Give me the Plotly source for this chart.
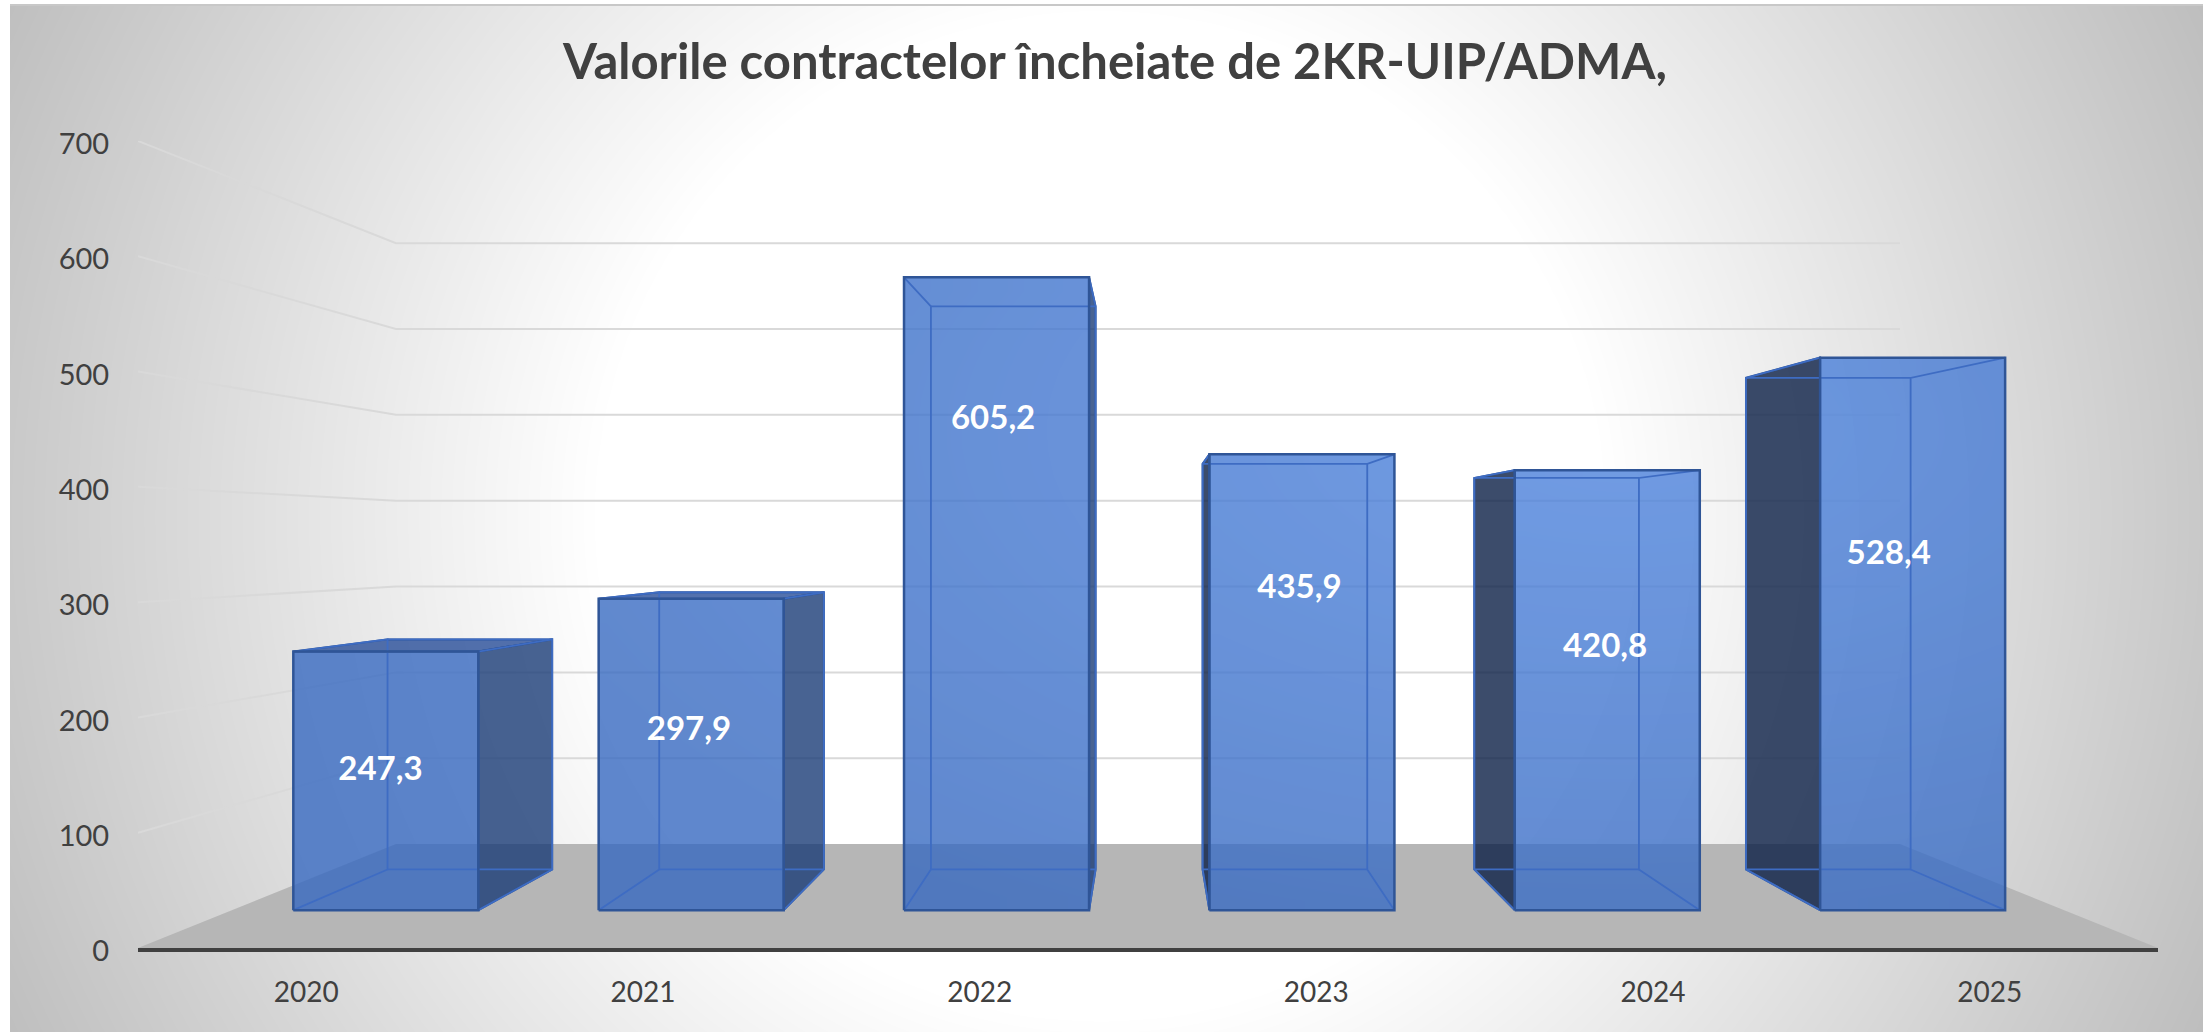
import numpy as np
import plotly.graph_objects as go

# ---------- data ----------
categories = ["2020", "2021", "2022", "2023", "2024", "2025"]
values = [247.3, 297.9, 605.2, 435.9, 420.8, 528.4]
value_labels = ["247,3", "297,9", "605,2", "435,9", "420,8", "528,4"]
y_ticks = [0, 100, 200, 300, 400, 500, 600, 700]
TITLE = "Valorile contractelor încheiate de 2KR-UIP/ADMA,"

# ---------- layout constants ----------
W, H = 2203, 1032
PLOT_L, PLOT_R, PLOT_T, PLOT_B = 138, 2158, 141, 948
Y_MAX = 700
VX, VY = 2.5, 353.0            # vanishing point, in axis units
S_WALL, S_FRONT, S_BACK = 0.7446, 0.907, 0.807
HALF = 0.303
BAR_SHIFT = 0.004
LABEL_H = [0.631, 0.641, 0.760, 0.720, 0.625, 0.649]   # label height as a share of the bar's value
LABEL_S = [0.912, 0.909, 0.92, 0.90, 0.905, 0.88]
LABEL_DROP = 3.0

FONT = "Lato"
TXT = "#404040"
EDGE = "#2f5597"
INNER = "rgb(62,108,195)"
SIDE_R = "rgba(26,60,119,0.8)"
SIDE_L = "rgba(11,31,70,0.8)"
TOP = "rgba(40,78,152,0.8)"
GRID = "#d9d9d9"
FLOOR = "#b6b6b6"
FRONT_DARK = "rgba(55,105,192,0.8)"
FRONT_LIGHT = "rgba(78,132,222,0.8)"
LIGHT_AT = (1620, 430)
LIGHT_R = (1150, 570)


def p(x, v, s):
    """Perspective projection into the axes' own units."""
    return VX + s * (x - VX), VY + s * (v - VY)


def poly(pts, fill=None, line=None, width=0, closed=True, ax=3):
    pts = list(pts) + ([pts[0]] if closed else [])
    xs, ys = zip(*pts)
    return go.Scatter(
        x=xs, y=ys, mode="lines", xaxis=f"x{ax}", yaxis=f"y{ax}",
        fill="toself" if fill else "none", fillcolor=fill,
        line=dict(color=line or "rgba(0,0,0,0)", width=width),
        hoverinfo="skip", showlegend=False,
    )


def lit_face(a, b):
    """Front face between corners a and b, with the soft light falling across it."""
    xs = np.linspace(a[0], b[0], 13)
    ys = np.linspace(a[1], b[1], 25)
    cx, cy = np.meshgrid((xs[:-1] + xs[1:]) / 2, (ys[:-1] + ys[1:]) / 2)
    px = PLOT_L + (cx + 0.5) / 6 * (PLOT_R - PLOT_L)
    py = PLOT_B - cy / Y_MAX * (PLOT_B - PLOT_T)
    d = np.hypot((px - LIGHT_AT[0]) / LIGHT_R[0], (py - LIGHT_AT[1]) / LIGHT_R[1])
    return go.Heatmap(
        x=xs, y=ys, z=np.clip(1 - d, 0, 1), zmin=0, zmax=1, zsmooth="best",
        colorscale=[[0, FRONT_DARK], [1, FRONT_LIGHT]], showscale=False,
        hoverinfo="skip", xaxis="x3", yaxis="y3",
    )


fig = go.Figure()

# background gradient (a decoration, drawn on its own full-page axes)
bx = np.linspace(10, W, 221)
by = np.linspace(6, H, 104)
gx, gy = np.meshgrid(bx, by)
r = np.hypot(gx - 1100, gy - 516)
fig.add_trace(go.Heatmap(
    x=bx, y=by, z=np.clip(255 - (r - 500) * 65 / 715, 190, 255),
    zmin=190, zmax=255, zsmooth="best", showscale=False, hoverinfo="skip",
    colorscale=[[0, "rgb(190,190,190)"], [1, "rgb(255,255,255)"]],
))

# floor
x0, x1 = -0.5, 5.5
fig.add_trace(poly([p(x0, 0, 1), p(x1, 0, 1), p(x1, 0, S_WALL), p(x0, 0, S_WALL)], fill=FLOOR, ax=2))

# gridlines on the back wall and left wall
gx_, gy_ = [], []
for t in y_ticks[1:]:
    a, b, c = p(x0, t, 1), p(x0, t, S_WALL), p(x1, t, S_WALL)
    gx_ += [a[0], b[0], c[0], None]
    gy_ += [a[1], b[1], c[1], None]
fig.add_trace(go.Scatter(x=gx_, y=gy_, mode="lines", xaxis="x2", yaxis="y2",
                         line=dict(color=GRID, width=2), hoverinfo="skip", showlegend=False))

# bars
for i, v in enumerate(values):
    l, rr = i + BAR_SHIFT - HALF, i + BAR_SHIFT + HALF
    fl0, fr0, fl1, fr1 = p(l, 0, S_FRONT), p(rr, 0, S_FRONT), p(l, v, S_FRONT), p(rr, v, S_FRONT)
    bl0, br0, bl1, br1 = p(l, 0, S_BACK), p(rr, 0, S_BACK), p(l, v, S_BACK), p(rr, v, S_BACK)
    # front (heatmaps sit under the scatter layer of their subplot)
    fig.add_trace(lit_face(fl0, fr1))
    # outward faces: side nearest the centre, and the top when it lies below eye level
    if i < VX:
        fig.add_trace(poly([fr0, br0, br1, fr1], fill=SIDE_R, line=EDGE, width=2))
    else:
        fig.add_trace(poly([fl0, bl0, bl1, fl1], fill=SIDE_L, line=EDGE, width=2))
    if v < VY:
        fig.add_trace(poly([fl1, fr1, br1, bl1], fill=TOP, line=EDGE, width=2))
    # inner edges seen through the front
    ex, ey = [], []
    for seg in ([fl0, bl0, bl1, fl1], [fr0, br0, br1, fr1], [bl0, br0], [bl1, br1]):
        ex += [q[0] for q in seg] + [None]
        ey += [q[1] for q in seg] + [None]
    fig.add_trace(go.Scatter(x=ex, y=ey, mode="lines", xaxis="x3", yaxis="y3",
                             line=dict(color=INNER, width=1.8), hoverinfo="skip", showlegend=False))
    fig.add_trace(poly([fl0, fr0, fr1, fl1], line=EDGE, width=2.5))

# data labels
lab = [p(i, h * v, 1)[1] - LABEL_DROP for i, (h, v) in enumerate(zip(LABEL_H, values))]
lab_x = [p(i, 0, s)[0] for i, s in enumerate(LABEL_S)]
fig.add_trace(go.Scatter(
    x=lab_x, y=lab, text=value_labels, mode="text", xaxis="x3", yaxis="y3",
    textposition="middle center", hoverinfo="skip", showlegend=False,
    textfont=dict(family=FONT, size=33, color="white", weight="bold"),
))

dom_x = [PLOT_L / W, PLOT_R / W]
dom_y = [1 - PLOT_B / H, 1 - PLOT_T / H]
fig.update_layout(
    width=W, height=H, margin=dict(l=0, r=0, t=0, b=0),
    paper_bgcolor="white", plot_bgcolor="rgba(0,0,0,0)", showlegend=False,
    font=dict(family=FONT, color=TXT),
    title=dict(text=f"<b>{TITLE}</b>", x=1115 / W, y=1 - 62 / H, xanchor="center", yanchor="middle",
               font=dict(family=FONT, size=49, color=TXT)),
    xaxis=dict(domain=[10 / W, 1], range=[10, W], side="top", showline=True, linecolor="#c8c8c8",
               linewidth=2, showgrid=False, zeroline=False, showticklabels=False, ticks="",
               automargin=False),
    yaxis=dict(domain=[0, 1 - 6 / H], range=[H, 6], showgrid=False, zeroline=False,
               showticklabels=False, ticks="", automargin=False),
    xaxis2=dict(domain=dom_x, range=[x0, x1], anchor="y2", tickmode="array",
                tickvals=list(range(len(categories))), ticktext=categories, showgrid=False,
                zeroline=False, showline=True, linecolor=TXT, linewidth=4, ticks="outside",
                ticklen=16, tickwidth=0, tickcolor="rgba(0,0,0,0)", automargin=False,
                tickfont=dict(family=FONT, size=28, color=TXT)),
    yaxis2=dict(domain=dom_y, range=[0, Y_MAX], anchor="x2", tickmode="array",
                tickvals=y_ticks, ticktext=[str(t) for t in y_ticks], showgrid=False, zeroline=False,
                showline=False, ticks="outside", ticklen=22, tickwidth=0, tickcolor="rgba(0,0,0,0)",
                ticklabelshift=3, automargin=False, tickfont=dict(family=FONT, size=29, color=TXT)),
    xaxis3=dict(domain=dom_x, range=[x0, x1], anchor="y3", visible=False, automargin=False),
    yaxis3=dict(domain=dom_y, range=[0, Y_MAX], anchor="x3", visible=False, automargin=False),
)

fig.write_html("out.html", config={"displayModeBar": False},
               post_script="document.body.style.margin='0';document.body.style.overflow='hidden';")
